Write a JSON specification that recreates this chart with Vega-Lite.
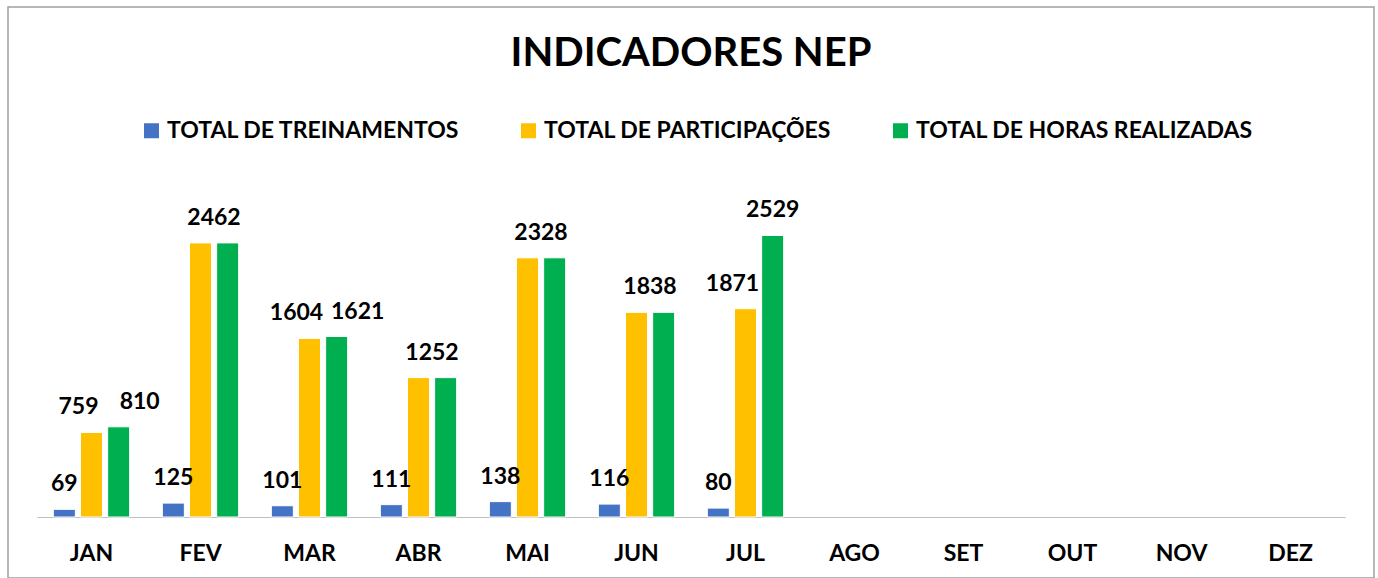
{
  "$schema": "https://vega.github.io/schema/vega-lite/v6.json",
  "width": 1366,
  "height": 571,
  "autosize": "none",
  "padding": {"left": 8, "top": 7, "right": 4, "bottom": 0},
  "background": "white",
  "config": {
    "view": {"stroke": "#A0A0A0", "strokeWidth": 1.5},
    "font": "Lato"
  },
  "title": {
    "text": "INDICADORES NEP",
    "font": "Lato",
    "fontSize": 40,
    "fontWeight": "bold",
    "color": "black",
    "anchor": "middle",
    "baseline": "alphabetic",
    "offset": -61,
    "dy": 38
  },
  "data": {
    "values": [
      {"month": "JAN", "serie": "TOTAL DE TREINAMENTOS", "value": 69},
      {"month": "JAN", "serie": "TOTAL DE PARTICIPAÇÕES", "value": 759},
      {"month": "JAN", "serie": "TOTAL DE HORAS REALIZADAS", "value": 810},
      {"month": "FEV", "serie": "TOTAL DE TREINAMENTOS", "value": 125},
      {"month": "FEV", "serie": "TOTAL DE PARTICIPAÇÕES", "value": 2462},
      {"month": "FEV", "serie": "TOTAL DE HORAS REALIZADAS", "value": 2462},
      {"month": "MAR", "serie": "TOTAL DE TREINAMENTOS", "value": 101},
      {"month": "MAR", "serie": "TOTAL DE PARTICIPAÇÕES", "value": 1604},
      {"month": "MAR", "serie": "TOTAL DE HORAS REALIZADAS", "value": 1621},
      {"month": "ABR", "serie": "TOTAL DE TREINAMENTOS", "value": 111},
      {"month": "ABR", "serie": "TOTAL DE PARTICIPAÇÕES", "value": 1252},
      {"month": "ABR", "serie": "TOTAL DE HORAS REALIZADAS", "value": 1252},
      {"month": "MAI", "serie": "TOTAL DE TREINAMENTOS", "value": 138},
      {"month": "MAI", "serie": "TOTAL DE PARTICIPAÇÕES", "value": 2328},
      {"month": "MAI", "serie": "TOTAL DE HORAS REALIZADAS", "value": 2328},
      {"month": "JUN", "serie": "TOTAL DE TREINAMENTOS", "value": 116},
      {"month": "JUN", "serie": "TOTAL DE PARTICIPAÇÕES", "value": 1838},
      {"month": "JUN", "serie": "TOTAL DE HORAS REALIZADAS", "value": 1838},
      {"month": "JUL", "serie": "TOTAL DE TREINAMENTOS", "value": 80},
      {"month": "JUL", "serie": "TOTAL DE PARTICIPAÇÕES", "value": 1871},
      {"month": "JUL", "serie": "TOTAL DE HORAS REALIZADAS", "value": 2529}
    ]
  },
  "encoding": {
    "x": {
      "field": "month",
      "type": "nominal",
      "sort": null,
      "scale": {
        "domain": ["JAN", "FEV", "MAR", "ABR", "MAI", "JUN", "JUL", "AGO", "SET", "OUT", "NOV", "DEZ"],
        "range": [29, 1337],
        "paddingInner": 0.3,
        "paddingOuter": 0.15
      },
      "axis": {
        "title": null,
        "orient": "bottom",
        "offset": -61,
        "labelAngle": 0,
        "labelFont": "Lato",
        "labelFontSize": 23,
        "labelFontWeight": "bold",
        "labelColor": "black",
        "labelBaseline": "alphabetic",
        "labelPadding": 43,
        "ticks": false,
        "tickSize": 0,
        "domainColor": "#BFBFBF",
        "domainWidth": 1,
        "grid": false
      }
    },
    "xOffset": {
      "field": "serie",
      "type": "nominal",
      "scale": {
        "domain": ["TOTAL DE TREINAMENTOS", "TOTAL DE PARTICIPAÇÕES", "TOTAL DE HORAS REALIZADAS"],
        "paddingInner": 0.19,
        "paddingOuter": 0
      }
    },
    "y": {
      "field": "value",
      "type": "quantitative",
      "scale": {"domain": [0, 3000], "range": [510, 176], "nice": false, "zero": true},
      "axis": null
    }
  },
  "layer": [
    {
      "mark": {"type": "bar", "stroke": "white", "strokeWidth": 1},
      "encoding": {
        "color": {
          "field": "serie",
          "type": "nominal",
          "scale": {
            "domain": ["TOTAL DE TREINAMENTOS", "TOTAL DE PARTICIPAÇÕES", "TOTAL DE HORAS REALIZADAS"],
            "range": ["#4472C4", "#FFC000", "#00B050"]
          },
          "legend": {
            "orient": "none",
            "legendX": 132,
            "legendY": 112,
            "direction": "horizontal",
            "title": null,
            "symbolType": "square",
            "symbolSize": 225,
            "symbolStrokeWidth": 0,
            "labelFont": "Lato",
            "labelFontSize": 23,
            "labelFontWeight": "bold",
            "labelColor": "black",
            "labelOffset": 4,
            "columnPadding": 57,
            "labelLimit": 600
          }
        }
      }
    },
    {
      "transform": [{"filter": "datum.serie == 'TOTAL DE TREINAMENTOS'"}],
      "mark": {"type": "text", "font": "Lato", "fontSize": 23, "fontWeight": "bold", "color": "black", "baseline": "alphabetic", "dy": -18},
      "encoding": {"text": {"field": "value", "type": "quantitative", "format": "d"}}
    },
    {
      "transform": [
        {"filter": "datum.serie != 'TOTAL DE TREINAMENTOS'"},
        {"joinaggregate": [{"op": "max", "field": "value", "as": "mx"}, {"op": "min", "field": "value", "as": "mn"}], "groupby": ["month"]},
        {"filter": "datum.mx == datum.mn && datum.serie == 'TOTAL DE PARTICIPAÇÕES'"}
      ],
      "mark": {"type": "text", "font": "Lato", "fontSize": 23, "fontWeight": "bold", "color": "black", "baseline": "alphabetic", "dy": -18, "dx": 13.5},
      "encoding": {"text": {"field": "value", "type": "quantitative", "format": "d"}}
    },
    {
      "transform": [
        {"filter": "datum.serie != 'TOTAL DE TREINAMENTOS'"},
        {"joinaggregate": [{"op": "max", "field": "value", "as": "mx"}, {"op": "min", "field": "value", "as": "mn"}], "groupby": ["month"]},
        {"filter": "datum.mx != datum.mn && datum.serie == 'TOTAL DE PARTICIPAÇÕES'"}
      ],
      "mark": {"type": "text", "font": "Lato", "fontSize": 23, "fontWeight": "bold", "color": "black", "baseline": "alphabetic", "dy": -18, "dx": -13},
      "encoding": {"text": {"field": "value", "type": "quantitative", "format": "d"}}
    },
    {
      "transform": [
        {"filter": "datum.serie != 'TOTAL DE TREINAMENTOS'"},
        {"joinaggregate": [{"op": "max", "field": "value", "as": "mx"}, {"op": "min", "field": "value", "as": "mn"}], "groupby": ["month"]},
        {"filter": "datum.mx != datum.mn && datum.mx - datum.mn < 300 && datum.serie == 'TOTAL DE HORAS REALIZADAS'"}
      ],
      "mark": {"type": "text", "font": "Lato", "fontSize": 23, "fontWeight": "bold", "color": "black", "baseline": "alphabetic", "dy": -18, "dx": 21},
      "encoding": {"text": {"field": "value", "type": "quantitative", "format": "d"}}
    },
    {
      "transform": [
        {"filter": "datum.serie != 'TOTAL DE TREINAMENTOS'"},
        {"joinaggregate": [{"op": "max", "field": "value", "as": "mx"}, {"op": "min", "field": "value", "as": "mn"}], "groupby": ["month"]},
        {"filter": "datum.mx - datum.mn >= 300 && datum.serie == 'TOTAL DE HORAS REALIZADAS'"}
      ],
      "mark": {"type": "text", "font": "Lato", "fontSize": 23, "fontWeight": "bold", "color": "black", "baseline": "alphabetic", "dy": -18},
      "encoding": {"text": {"field": "value", "type": "quantitative", "format": "d"}}
    }
  ]
}
